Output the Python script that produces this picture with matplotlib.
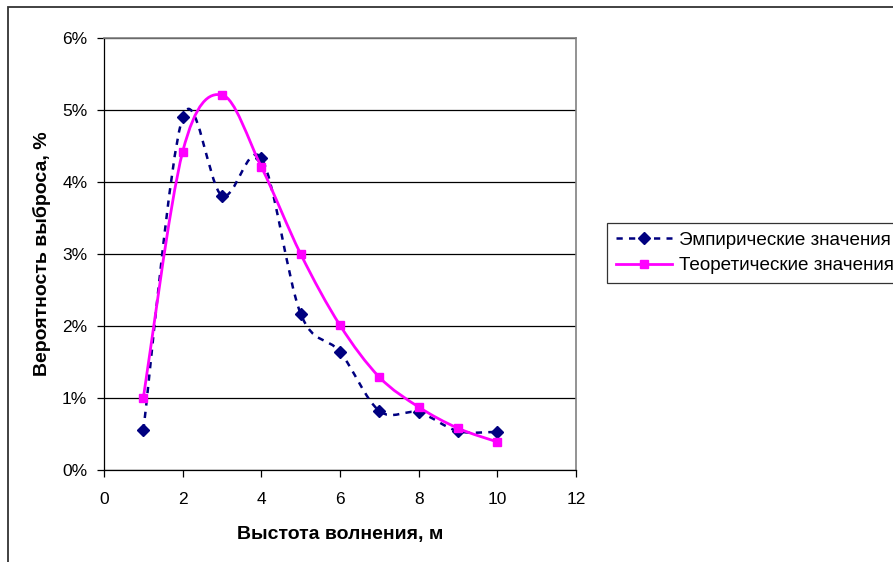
import numpy as np
import matplotlib
matplotlib.use('Agg')
import matplotlib.pyplot as plt
from matplotlib.path import Path
from matplotlib.patches import PathPatch, Rectangle
from matplotlib.lines import Line2D

plt.rcParams['font.family'] = ['Liberation Sans', 'DejaVu Sans']

# wave height, m
heights = [1, 2, 3, 4, 5, 6, 7, 8, 9, 10]
# empirical probability, %
empirical = [0.55, 4.90, 3.81, 4.33, 2.17, 1.64, 0.82, 0.80, 0.54, 0.53]
# theoretical probability, %
theoretical = [1.00, 4.42, 5.21, 4.21, 3.00, 2.01, 1.29, 0.875, 0.58, 0.39]

label_emp = 'Эмпирические значения'
label_theo = 'Теоретические значения'
xlabel = 'Выстота волнения, м'
ylabel = 'Вероятность выброса, %'

navy = '#000080'
magenta = '#FF00FF'


def smooth_path(xs, ys):
    # Excel-like smoothed line: cubic bezier through every point
    p = np.column_stack([xs, ys]).astype(float)
    pp = np.vstack([p[0], p, p[-1]])
    verts = [p[0]]
    codes = [Path.MOVETO]
    for i in range(len(p) - 1):
        c1 = pp[i + 1] + (pp[i + 2] - pp[i]) / 6.0
        c2 = pp[i + 2] - (pp[i + 3] - pp[i + 1]) / 6.0
        verts += [c1, c2, pp[i + 2]]
        codes += [Path.CURVE4, Path.CURVE4, Path.CURVE4]
    return Path(verts, codes)


fig = plt.figure(figsize=(8.93, 5.62), dpi=100)
ax = fig.add_axes([104 / 893, 1 - 470 / 562, 472 / 893, 432 / 562])

ax.add_patch(PathPatch(smooth_path(heights, [v / 100 for v in empirical]),
                       fill=False, edgecolor=navy, lw=1.8,
                       linestyle=(0, (2.5, 2.5)), zorder=3))
ax.plot(heights, [v / 100 for v in empirical], linestyle='none', marker='D',
        ms=6.3, color=navy, zorder=4)
ax.add_patch(PathPatch(smooth_path(heights, [v / 100 for v in theoretical]),
                       fill=False, edgecolor=magenta, lw=2.0, zorder=5))
ax.plot(heights, [v / 100 for v in theoretical], linestyle='none', marker='s',
        ms=6.2, color=magenta, zorder=6)

ax.set_xlim(0, 12)
ax.set_ylim(0, 0.06)
ax.set_xticks(range(0, 13, 2))
ax.set_yticks([i / 100 for i in range(7)])
ax.set_yticklabels(['%d%%' % i for i in range(7)])
ax.yaxis.grid(True, color='black', lw=0.9)
ax.set_axisbelow(True)
ax.tick_params(axis='both', labelsize=12.5, direction='out', length=5,
               width=0.9, color='black')
ax.tick_params(axis='x', pad=10.5)
ax.tick_params(axis='y', pad=7)
for s in ['top', 'right']:
    ax.spines[s].set_color('#808080')
    ax.spines[s].set_linewidth(1.2)
for s in ['left', 'bottom']:
    ax.spines[s].set_color('black')
    ax.spines[s].set_linewidth(0.9)

ax.set_xlabel(xlabel, fontsize=14, fontweight='bold', labelpad=14)
ax.set_ylabel(ylabel, fontsize=14, fontweight='bold', labelpad=8)

h1 = Line2D([], [], color=navy, lw=1.8, linestyle=(0, (2.5, 2.5)), marker='D', ms=6.3)
h2 = Line2D([], [], color=magenta, lw=2.0, marker='s', ms=6.2)
leg = fig.legend([h1, h2], [label_emp, label_theo], loc='upper left',
                 bbox_to_anchor=(607 / 893, 1 - 223 / 562), fontsize=13.6,
                 frameon=True, fancybox=False, handlelength=3.0,
                 handletextpad=0.35, borderpad=0.45, labelspacing=0.45,
                 borderaxespad=0)
leg.get_frame().set_edgecolor('black')
leg.get_frame().set_linewidth(0.9)

# outer chart border
fig.patches.append(Rectangle((8 / 893, -0.1), 1.2, 1 - 7 / 562 + 0.1,
                             transform=fig.transFigure, fill=False,
                             edgecolor='#333333', lw=1.3))

fig.savefig('out.png', dpi=100)
